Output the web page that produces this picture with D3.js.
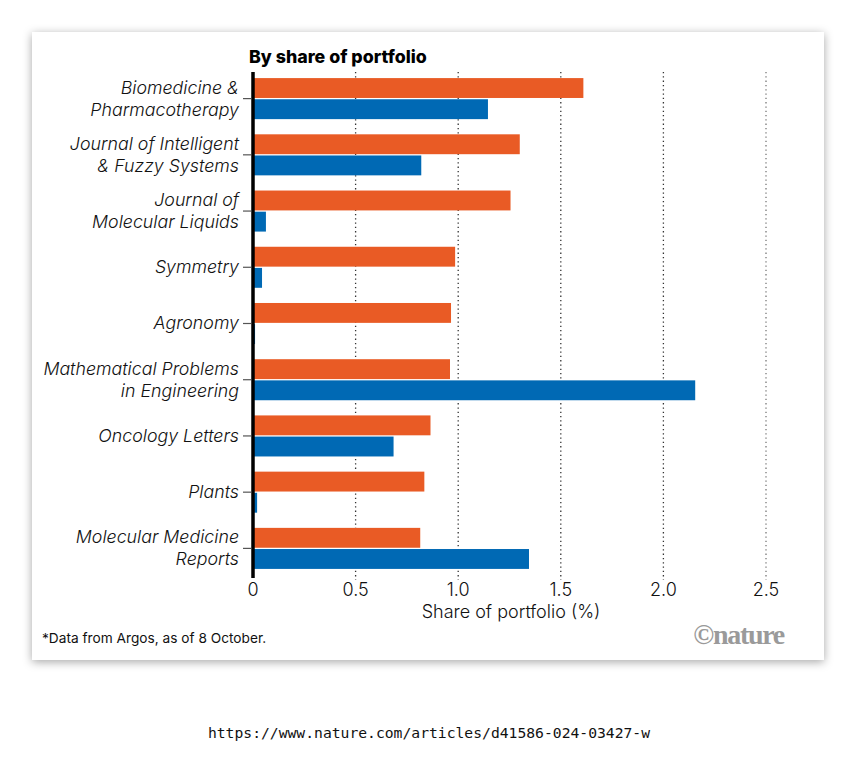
<!DOCTYPE html>
<html>
<head>
<meta charset="utf-8">
<script src="https://cdn.jsdelivr.net/npm/d3@7"></script>
<style>
  body { margin: 0; background: #fff; }
  svg { display: block; }
</style>
</head>
<body>
<svg id="chart" width="856" height="773"></svg>
<script>
const journals = [
  ["Biomedicine &", "Pharmacotherapy"],
  ["Journal of Intelligent", "& Fuzzy Systems"],
  ["Journal of", "Molecular Liquids"],
  ["Symmetry"],
  ["Agronomy"],
  ["Mathematical Problems", "in Engineering"],
  ["Oncology Letters"],
  ["Plants"],
  ["Molecular Medicine", "Reports"]
];
const orangeValues = [1.61, 1.30, 1.255, 0.985, 0.965, 0.96, 0.865, 0.835, 0.815];
const blueValues = [1.145, 0.82, 0.063, 0.044, 0.01, 2.155, 0.685, 0.02, 1.345];
const xTicks = [0, 0.5, 1.0, 1.5, 2.0, 2.5];
const xTickLabels = ["0", "0.5", "1.0", "1.5", "2.0", "2.5"];

const svg = d3.select("#chart");
const font = "Inter, 'Noto Sans', sans-serif";

// card with shadow
const defs = svg.append("defs");
const f = defs.append("filter").attr("id", "shadow").attr("x", "-10%").attr("y", "-10%").attr("width", "120%").attr("height", "120%");
f.append("feDropShadow").attr("dx", 0).attr("dy", 2).attr("stdDeviation", 5).attr("flood-color", "#000").attr("flood-opacity", 0.35);
svg.append("rect").attr("x", 32).attr("y", 32).attr("width", 792).attr("height", 628)
  .attr("fill", "#fff").attr("filter", "url(#shadow)");

const x = d3.scaleLinear().domain([0, 2.5]).range([253, 766]);
const y = d3.scaleBand().domain(d3.range(journals.length)).range([70.5, 576.5]).paddingInner(0.27).paddingOuter(0.135);
const sub = d3.scaleBand().domain(["orange", "blue"]).range([0, y.bandwidth()]).paddingInner(0.06);

// dotted gridlines
svg.append("g").selectAll("line").data(xTicks.slice(1)).join("line")
  .attr("x1", d => x(d)).attr("x2", d => x(d))
  .attr("y1", 72).attr("y2", 580)
  .attr("stroke", (d, i) => i === 4 ? "#777" : "#333")
  .attr("stroke-width", 1.3)
  .attr("stroke-dasharray", "1.3,3");

// bars
const groups = svg.append("g").selectAll("g").data(journals).join("g")
  .attr("transform", (d, i) => `translate(0,${y(i)})`);
groups.append("rect")
  .attr("x", x(0)).attr("y", sub("orange"))
  .attr("width", (d, i) => x(orangeValues[i]) - x(0))
  .attr("height", sub.bandwidth()).attr("fill", "#E95B25");
groups.append("rect")
  .attr("x", x(0)).attr("y", sub("blue"))
  .attr("width", (d, i) => x(blueValues[i]) - x(0))
  .attr("height", sub.bandwidth()).attr("fill", "#0069B4");

// category ticks and labels
groups.append("line")
  .attr("x1", 243).attr("x2", 251)
  .attr("y1", y.bandwidth() / 2).attr("y2", y.bandwidth() / 2)
  .attr("stroke", "#555").attr("stroke-width", 1.2);
groups.each(function (d) {
  const t = d3.select(this).append("text")
    .attr("x", 239).attr("text-anchor", "end")
    .attr("font-family", font).attr("font-style", "italic").attr("font-weight", 300)
    .attr("font-size", 17.8).attr("fill", "#111");
  const c = y.bandwidth() / 2;
  const start = d.length === 1 ? c + 6 : c - 5;
  d.forEach((line, k) => t.append("tspan").attr("x", 239).attr("y", start + k * 22).text(line));
});

// zero axis
svg.append("line").attr("x1", x(0)).attr("x2", x(0)).attr("y1", 72).attr("y2", 578)
  .attr("stroke", "#000").attr("stroke-width", 3.5);

// x tick labels
svg.append("g").selectAll("text").data(xTicks).join("text")
  .attr("x", d => x(d)).attr("y", 596).attr("text-anchor", "middle")
  .attr("font-family", font).attr("font-weight", 300).attr("font-size", 18).attr("fill", "#111")
  .text((d, i) => xTickLabels[i]);

svg.append("text").attr("x", 511).attr("y", 618).attr("text-anchor", "middle")
  .attr("font-family", font).attr("font-weight", 300).attr("font-size", 18).attr("fill", "#111")
  .text("Share of portfolio (%)");

// title
svg.append("text").attr("x", 249).attr("y", 63)
  .attr("font-family", font).attr("font-weight", 800).attr("font-size", 17.8).attr("fill", "#000")
  .text("By share of portfolio");

// footer
svg.append("text").attr("x", 42).attr("y", 643)
  .attr("font-family", font).attr("font-size", 13.7).attr("fill", "#111")
  .text("*Data from Argos, as of 8 October.");
svg.append("text").attr("x", 784).attr("y", 644).attr("text-anchor", "end")
  .attr("font-family", "'Liberation Serif', serif").attr("font-weight", "bold").attr("font-size", 28)
  .attr("letter-spacing", -1.3).attr("fill", "#9a9a9a")
  .text("©nature");

svg.append("text").attr("x", 429).attr("y", 738).attr("text-anchor", "middle")
  .attr("font-family", "'DejaVu Sans Mono', monospace").attr("font-size", 14.7).attr("fill", "#111")
  .text("https://www.nature.com/articles/d41586-024-03427-w");
</script>
</body>
</html>
